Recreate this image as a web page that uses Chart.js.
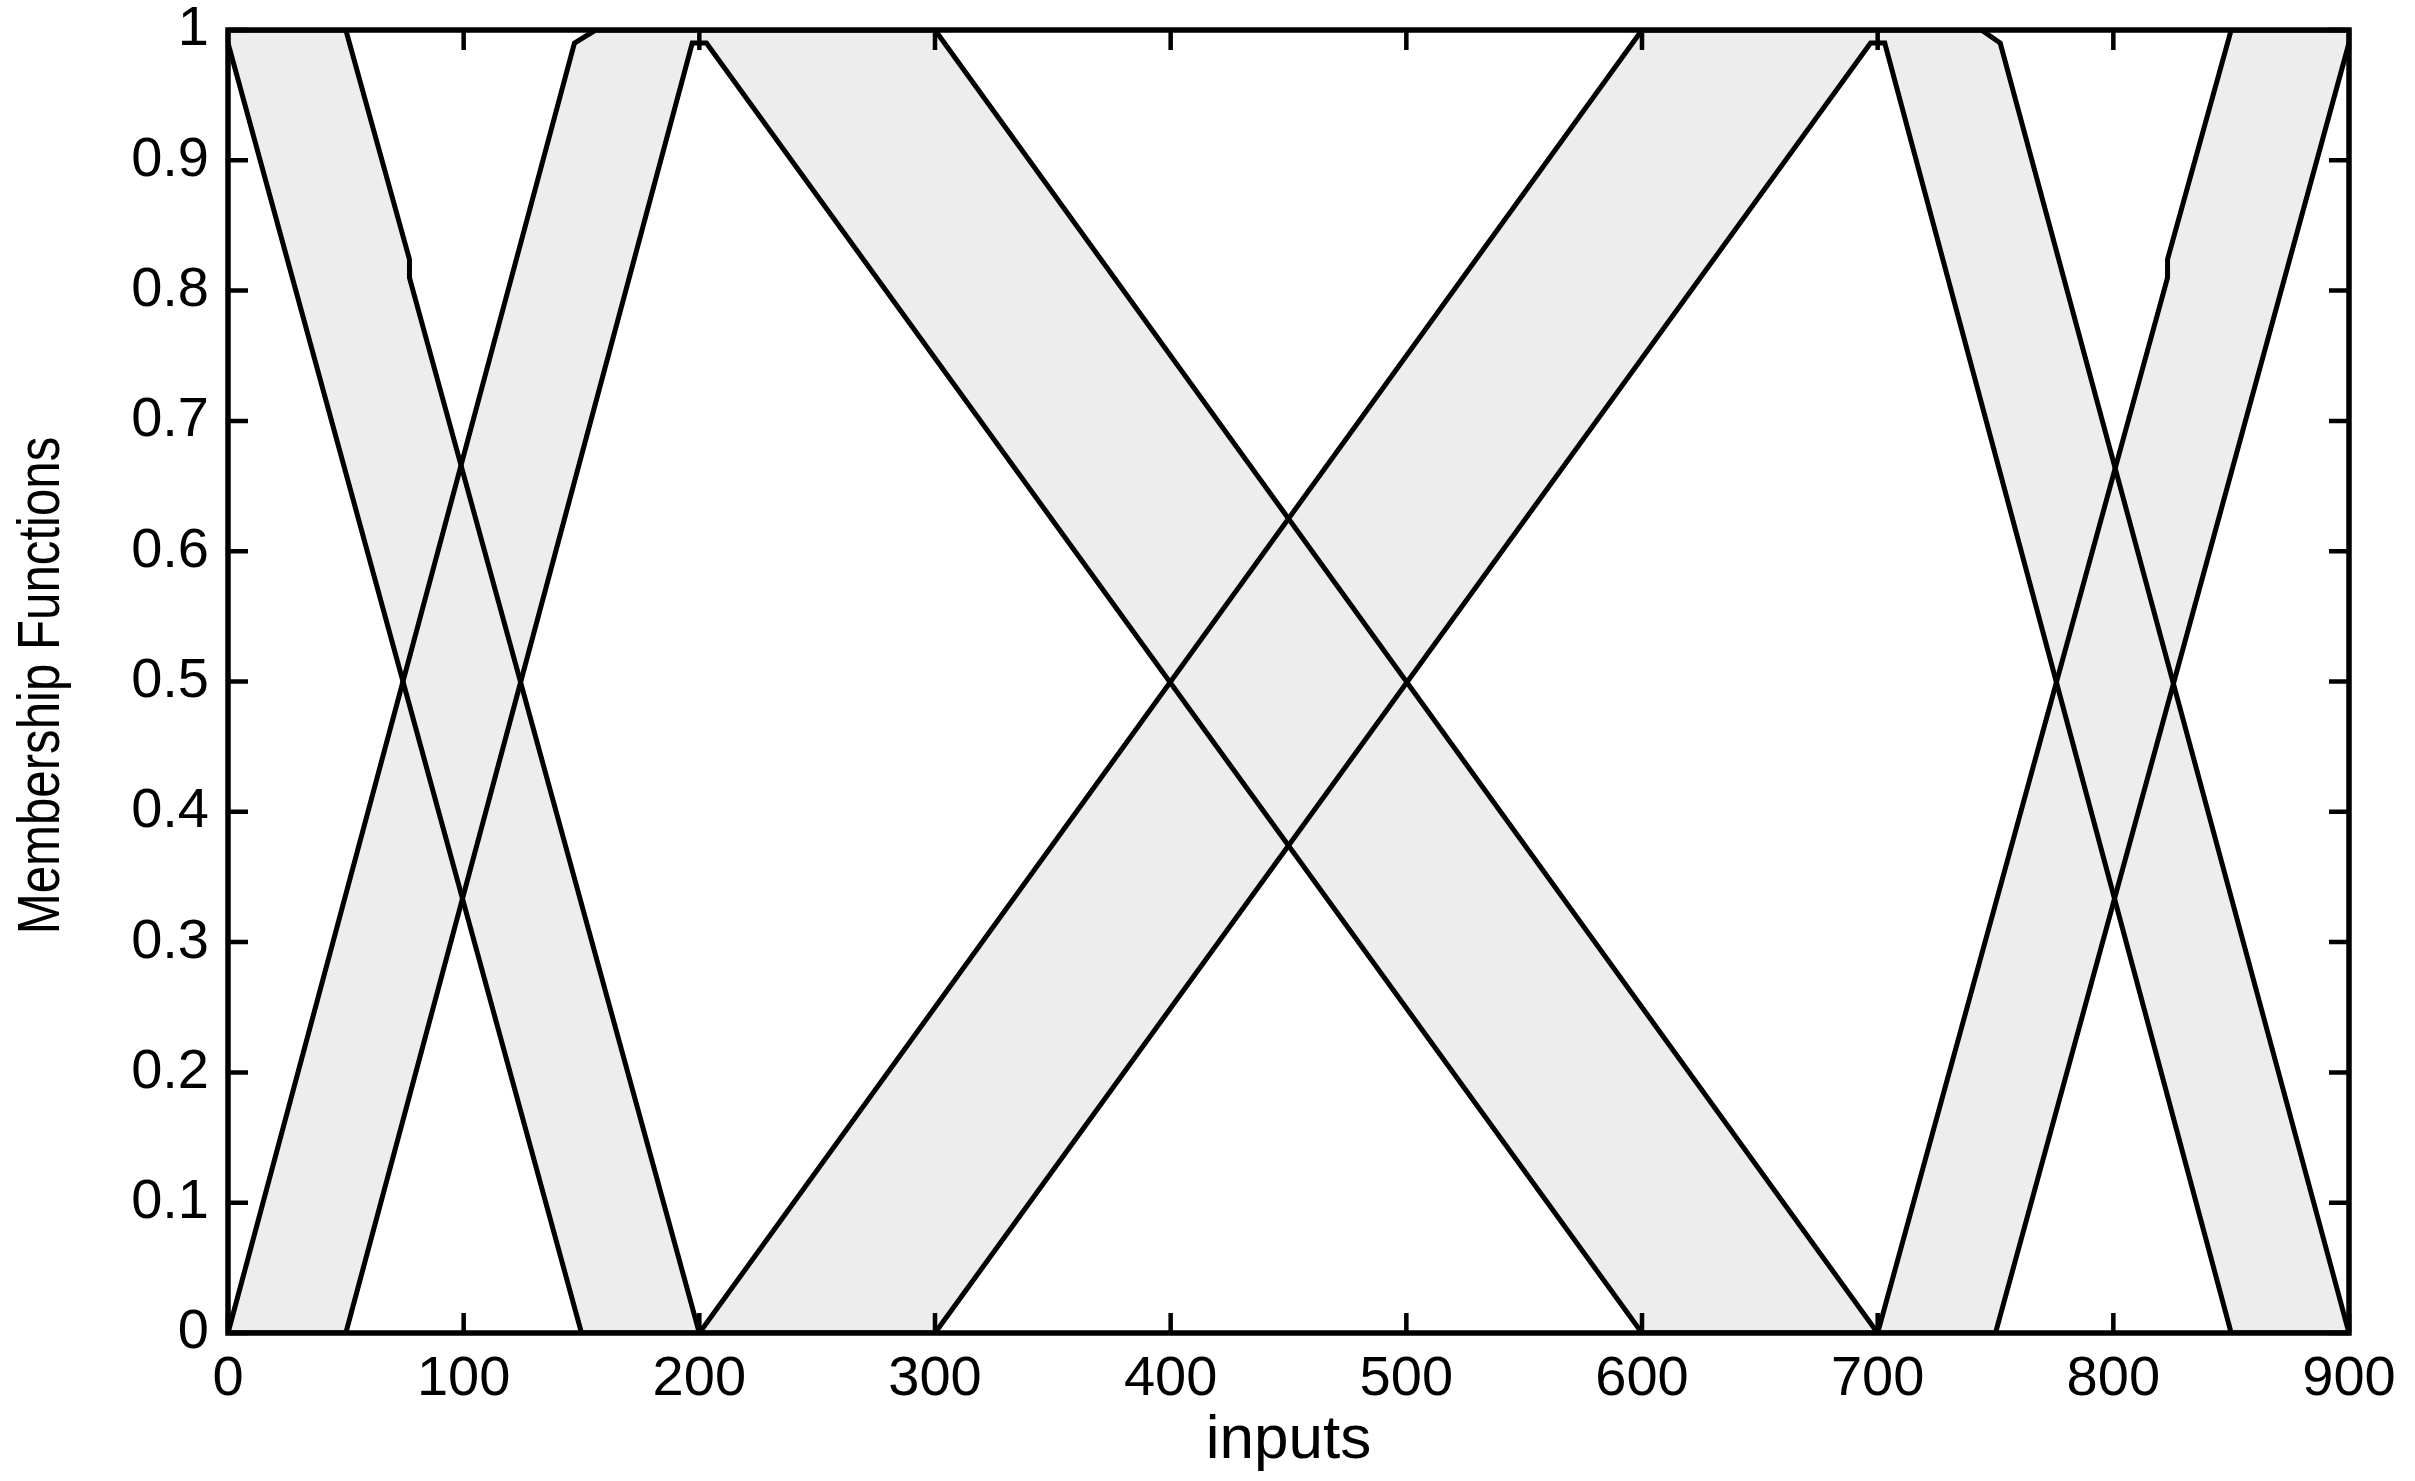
<!DOCTYPE html>
<html>
<head>
<meta charset="utf-8">
<title>Membership Functions</title>
<script src="https://cdn.jsdelivr.net/npm/chart.js@4.4.0/dist/chart.umd.min.js"></script>
<style>
  html, body { margin: 0; padding: 0; background: #fff; }
  #wrap { width: 2415px; height: 1481px; }
</style>
</head>
<body>
<div id="wrap"><canvas id="mfChart"></canvas></div>
<script>
// axis ticks
const xTicks = [0, 100, 200, 300, 400, 500, 600, 700, 800, 900];
const xTickLabels = ['0', '100', '200', '300', '400', '500', '600', '700', '800', '900'];
const yTicks = [0, 0.1, 0.2, 0.3, 0.4, 0.5, 0.6, 0.7, 0.8, 0.9, 1];
const yTickLabels = ['0', '0.1', '0.2', '0.3', '0.4', '0.5', '0.6', '0.7', '0.8', '0.9', '1'];
const yTitle = 'Membership Functions';

// breakpoints: upper / lower MF of each interval type-2 set
const mf1UpperX = [0, 50, 77, 77, 200];
const mf1UpperY = [1, 1, 0.824, 0.81, 0];
const mf1LowerX = [0, 150, 200];
const mf1LowerY = [0.99, 0, 0];

const mf2UpperX = [0, 147, 156, 300, 700];
const mf2UpperY = [0, 0.99, 1, 1, 0];
const mf2LowerX = [0, 50, 197, 203, 600, 700];
const mf2LowerY = [0, 0, 0.99, 0.99, 0, 0];

const mf3UpperX = [200, 600, 744, 752, 900];
const mf3UpperY = [0, 1, 1, 0.99, 0];
const mf3LowerX = [200, 300, 697, 703, 850, 900];
const mf3LowerY = [0, 0, 0.99, 0.99, 0, 0];

const mf4UpperX = [700, 823, 823, 850, 900];
const mf4UpperY = [0, 0.81, 0.824, 1, 1];
const mf4LowerX = [700, 750, 900];
const mf4LowerY = [0, 0, 0.99];

const fouColor = '#ededed';

function toPts(xs, ys) {
    return xs.map((x, i) => ({ x: x, y: ys[i] }));
}

const sets = [
    [mf1UpperX, mf1UpperY, mf1LowerX, mf1LowerY],
    [mf2UpperX, mf2UpperY, mf2LowerX, mf2LowerY],
    [mf3UpperX, mf3UpperY, mf3LowerX, mf3LowerY],
    [mf4UpperX, mf4UpperY, mf4LowerX, mf4LowerY]
];

const datasets = [];
sets.forEach(s => {
    const upperIdx = datasets.length;
    datasets.push({
        data: toPts(s[0], s[1]),
        borderColor: '#000',
        borderWidth: 5,
        pointRadius: 0,
        tension: 0,
        backgroundColor: fouColor,
        fill: { target: upperIdx + 1, above: fouColor, below: fouColor }
    });
    datasets.push({
        data: toPts(s[2], s[3]),
        borderColor: '#000',
        borderWidth: 5,
        pointRadius: 0,
        tension: 0,
        fill: false
    });
});

// matlab style box with inward ticks on all four sides
const boxPlugin = {
    id: 'matlabBox',
    afterDatasetsDraw(chart) {
        const { ctx, chartArea: a, scales } = chart;
        const x = scales.x, y = scales.y;
        ctx.save();
        ctx.strokeStyle = '#000';
        ctx.lineWidth = 4.5;
        ctx.beginPath();
        xTicks.forEach(v => {
            const px = x.getPixelForValue(v);
            ctx.moveTo(px, a.bottom);
            ctx.lineTo(px, a.bottom - 20);
            ctx.moveTo(px, a.top);
            ctx.lineTo(px, a.top + 20);
        });
        yTicks.forEach(v => {
            const py = y.getPixelForValue(v);
            ctx.moveTo(a.left, py);
            ctx.lineTo(a.left + 20, py);
            ctx.moveTo(a.right, py);
            ctx.lineTo(a.right - 20, py);
        });
        ctx.stroke();
        ctx.lineWidth = 5.5;
        ctx.strokeRect(a.left, a.top, a.right - a.left, a.bottom - a.top);
        ctx.restore();
    }
};

// the ylabel is set in a condensed face in the figure; squeeze it along the text
const yTitlePlugin = {
    id: 'narrowYTitle',
    afterDraw(chart) {
        const { ctx, chartArea: a } = chart;
        ctx.save();
        ctx.translate(42, (a.top + a.bottom) / 2 + 4);
        ctx.rotate(-Math.PI / 2);
        ctx.scale(0.82, 1);
        ctx.font = '60px "Liberation Sans", Arial, sans-serif';
        ctx.fillStyle = '#000';
        ctx.textAlign = 'center';
        ctx.textBaseline = 'middle';
        ctx.fillText(yTitle, 0, 0);
        ctx.restore();
    }
};

const tickFont = { family: '"Liberation Sans", Arial, sans-serif', size: 56 };

new Chart(document.getElementById('mfChart').getContext('2d'), {
    type: 'line',
    data: { datasets: datasets },
    options: {
        responsive: true,
        maintainAspectRatio: false,
        animation: false,
        devicePixelRatio: 1,
        layout: { padding: { top: 30, right: 66, left: 0, bottom: 0 } },
        plugins: {
            legend: { display: false },
            tooltip: { enabled: false },
            filler: { drawTime: 'beforeDatasetsDraw' }
        },
        scales: {
            x: {
                type: 'linear',
                min: 0,
                max: 900,
                grid: { display: false, drawTicks: false },
                border: { display: false },
                afterBuildTicks: scale => { scale.ticks = xTicks.map(v => ({ value: v })); },
                afterFit: scale => { scale.height = 148; scale.paddingLeft = 0; scale.paddingRight = 0; },
                ticks: {
                    autoSkip: false,
                    maxRotation: 0,
                    padding: 13,
                    color: '#000',
                    font: tickFont,
                    callback: (v, i) => xTickLabels[i]
                },
                title: {
                    display: true,
                    text: 'inputs',
                    color: '#000',
                    font: { family: '"Liberation Sans", Arial, sans-serif', size: 62 },
                    padding: { top: 0, bottom: 3 }
                }
            },
            y: {
                type: 'linear',
                min: 0,
                max: 1,
                grid: { display: false, drawTicks: false },
                border: { display: false },
                afterBuildTicks: scale => { scale.ticks = yTicks.map(v => ({ value: v })); },
                afterFit: scale => { scale.width = 228; scale.paddingTop = 0; scale.paddingBottom = 0; },
                ticks: {
                    autoSkip: false,
                    padding: 19,
                    color: '#000',
                    font: tickFont,
                    callback: (v, i) => yTickLabels[i]
                },
                title: { display: false }
            }
        }
    },
    plugins: [boxPlugin, yTitlePlugin]
});
</script>
</body>
</html>
